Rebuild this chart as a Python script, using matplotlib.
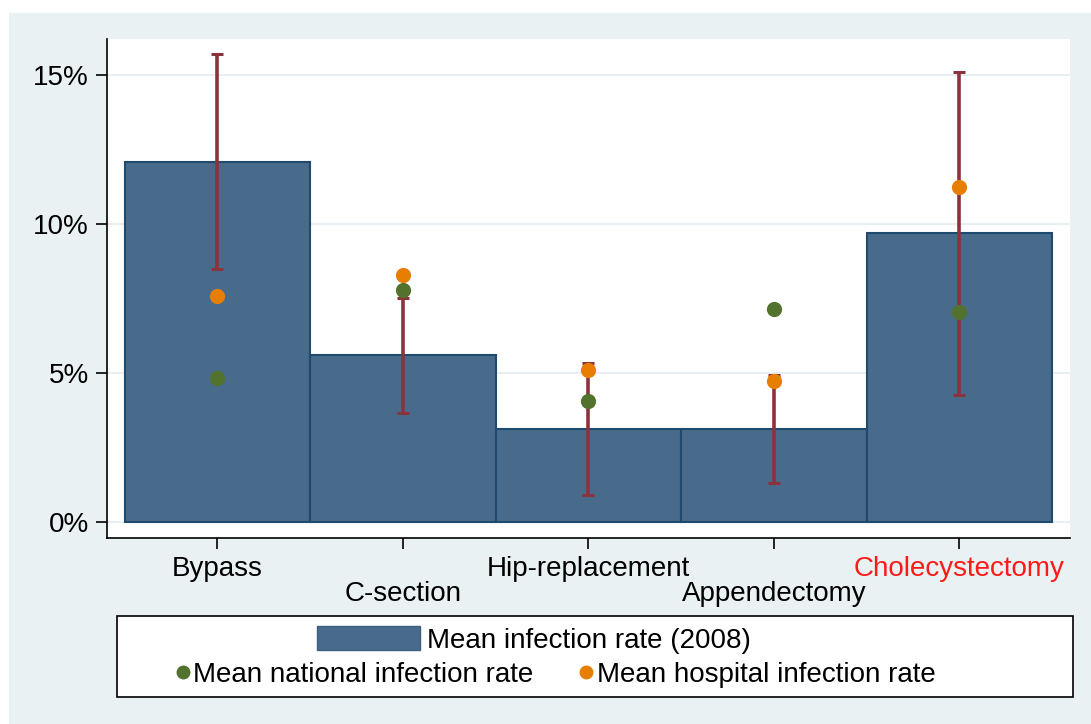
import matplotlib.pyplot as plt
from matplotlib.patches import Rectangle, Patch
from matplotlib.lines import Line2D

plt.rcParams['font.family'] = ['Liberation Sans', 'DejaVu Sans']

procedures = ['Bypass', 'C-section', 'Hip-replacement', 'Appendectomy', 'Cholecystectomy']
mean_rate_2008 = [12.07, 5.60, 3.13, 3.13, 9.70]
national_rate = [4.84, 7.79, 4.07, 7.15, 7.05]
hospital_rate = [7.58, 8.29, 5.11, 4.74, 11.24]
ci_low = [8.49, 3.67, 0.92, 1.32, 4.27]
ci_high = [15.69, 7.53, 5.33, 4.94, 15.09]
yticks = [0, 5, 10, 15]

bar_color = '#496b8b'
bar_edge = '#1e4a70'
err_color = '#8b333d'
green = '#53722d'
orange = '#e87e00'
bg = '#e9f1f3'
fs = 20

W, H = 1091, 724
fig = plt.figure(figsize=(W / 100, H / 100), dpi=100)
fig.patch.set_facecolor('white')
fig.patches.append(Rectangle((9 / W, 0), 1, 1 - 13 / H, transform=fig.transFigure,
                             facecolor=bg, edgecolor='none', zorder=-10))

ax = fig.add_axes([107 / W, 1 - 538 / H, (1070 - 107) / W, (538 - 39) / H])
ax.set_facecolor('white')

x = list(range(len(procedures)))
ax.bar(x, mean_rate_2008, width=1.0, color=bar_color, edgecolor=bar_edge,
       linewidth=1.5, zorder=2)

mid = [(l + h) / 2 for l, h in zip(ci_low, ci_high)]
half = [(h - l) / 2 for l, h in zip(ci_low, ci_high)]
ax.errorbar(x, mid, yerr=half, fmt='none', ecolor=err_color, elinewidth=2.6,
            capsize=4, capthick=2.2, zorder=3)

ax.scatter(x, national_rate, s=120, color=green, zorder=4, linewidths=0)
ax.scatter(x, hospital_rate, s=120, color=orange, zorder=5, linewidths=0)

ax.set_xlim(-0.595, 4.597)
ax.set_ylim(-0.52, 16.19)
ax.set_yticks(yticks)
ax.set_yticklabels([f'{v}%' for v in yticks], fontsize=fs)
ax.yaxis.grid(True, color='#e6eef2', linewidth=1.3, zorder=0)
ax.set_axisbelow(True)

# staggered category labels: even ones on first row, odd ones on second
ax.set_xticks(x[::2])
ax.set_xticklabels(procedures[::2], fontsize=fs)
ax.set_xticks(x[1::2], minor=True)
ax.set_xticklabels(procedures[1::2], minor=True, fontsize=fs)
ax.tick_params(axis='x', which='major', length=8, width=1.2, pad=5)
ax.tick_params(axis='x', which='minor', length=8, width=1.2, pad=23)
ax.tick_params(axis='y', length=8, width=1.2, pad=5)
ax.get_xticklabels()[-1].set_color('#ff1a1a')

for side in ['top', 'right']:
    ax.spines[side].set_visible(False)
for side in ['left', 'bottom']:
    ax.spines[side].set_linewidth(1.2)
    ax.spines[side].set_color('black')

# legend box
fig.patches.append(Rectangle((117 / W, 1 - 697 / H), (1073 - 117) / W, (697 - 616) / H,
                             transform=fig.transFigure, facecolor='white',
                             edgecolor='black', linewidth=1.2, zorder=1))

leg_kw = dict(frameon=False, fontsize=fs, borderpad=0, borderaxespad=0, loc='center left')
l1 = fig.legend(handles=[Patch(facecolor=bar_color, edgecolor='#3d5f80',
                               label='Mean infection rate (2008)')],
                bbox_to_anchor=(317 / W, 1 - 640 / H), handlelength=3.7,
                handleheight=0.9, handletextpad=0.25, **leg_kw)
l2 = fig.legend(handles=[Line2D([], [], marker='o', linestyle='none', color=green,
                                markersize=9, label='Mean national infection rate')],
                bbox_to_anchor=(175 / W, 1 - 675 / H), handlelength=0.55,
                handletextpad=0.1, **leg_kw)
l3 = fig.legend(handles=[Line2D([], [], marker='o', linestyle='none', color=orange,
                                markersize=9, label='Mean hospital infection rate')],
                bbox_to_anchor=(578 / W, 1 - 675 / H), handlelength=0.55,
                handletextpad=0.15, **leg_kw)
for lg in (l1, l2, l3):
    lg.set_zorder(2)

fig.savefig('out.png', dpi=100)
